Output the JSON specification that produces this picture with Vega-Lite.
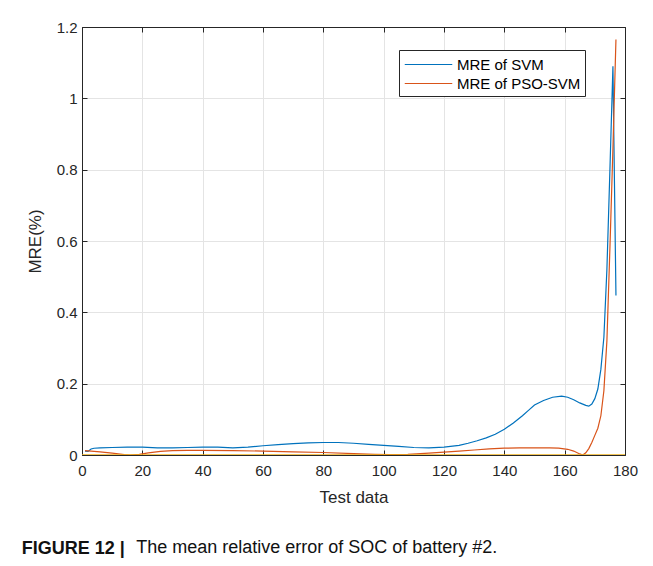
{
  "$schema": "https://vega.github.io/schema/vega-lite/v6.json",
  "background": "white",
  "padding": {"left": 21, "top": 19, "right": 20, "bottom": 10},
  "config": {
    "font": "Liberation Sans",
    "view": {"stroke": "#262626", "strokeWidth": 1},
    "axis": {"labelFont": "Liberation Sans", "titleFont": "Liberation Sans", "labelColor": "#262626", "titleColor": "#262626", "domainColor": "#262626", "tickColor": "#262626", "titleFontWeight": "normal"}
  },
  "datasets": {
    "main": [
      {"series":"MRE of SVM","test":1,"mre":0.011},{"series":"MRE of SVM","test":2,"mre":0.010},{"series":"MRE of SVM","test":3,"mre":0.017},{"series":"MRE of SVM","test":4,"mre":0.019},{"series":"MRE of SVM","test":6,"mre":0.020},{"series":"MRE of SVM","test":10,"mre":0.021},{"series":"MRE of SVM","test":15,"mre":0.022},{"series":"MRE of SVM","test":20,"mre":0.022},{"series":"MRE of SVM","test":25,"mre":0.020},{"series":"MRE of SVM","test":30,"mre":0.020},{"series":"MRE of SVM","test":35,"mre":0.021},{"series":"MRE of SVM","test":40,"mre":0.022},{"series":"MRE of SVM","test":45,"mre":0.022},{"series":"MRE of SVM","test":50,"mre":0.020},{"series":"MRE of SVM","test":55,"mre":0.022},{"series":"MRE of SVM","test":60,"mre":0.026},{"series":"MRE of SVM","test":65,"mre":0.029},{"series":"MRE of SVM","test":70,"mre":0.032},{"series":"MRE of SVM","test":75,"mre":0.034},{"series":"MRE of SVM","test":80,"mre":0.035},{"series":"MRE of SVM","test":85,"mre":0.035},{"series":"MRE of SVM","test":90,"mre":0.033},{"series":"MRE of SVM","test":95,"mre":0.030},{"series":"MRE of SVM","test":100,"mre":0.027},{"series":"MRE of SVM","test":105,"mre":0.024},{"series":"MRE of SVM","test":110,"mre":0.021},{"series":"MRE of SVM","test":115,"mre":0.020},{"series":"MRE of SVM","test":120,"mre":0.022},{"series":"MRE of SVM","test":125,"mre":0.027},{"series":"MRE of SVM","test":128,"mre":0.033},{"series":"MRE of SVM","test":131,"mre":0.040},{"series":"MRE of SVM","test":134,"mre":0.048},{"series":"MRE of SVM","test":137,"mre":0.058},{"series":"MRE of SVM","test":140,"mre":0.072},{"series":"MRE of SVM","test":143,"mre":0.090},{"series":"MRE of SVM","test":146,"mre":0.110},{"series":"MRE of SVM","test":148,"mre":0.125},{"series":"MRE of SVM","test":150,"mre":0.140},{"series":"MRE of SVM","test":153,"mre":0.153},{"series":"MRE of SVM","test":156,"mre":0.162},{"series":"MRE of SVM","test":159,"mre":0.165},{"series":"MRE of SVM","test":161,"mre":0.162},{"series":"MRE of SVM","test":163,"mre":0.155},{"series":"MRE of SVM","test":165,"mre":0.146},{"series":"MRE of SVM","test":167,"mre":0.139},{"series":"MRE of SVM","test":168,"mre":0.137},{"series":"MRE of SVM","test":169,"mre":0.143},{"series":"MRE of SVM","test":170,"mre":0.158},{"series":"MRE of SVM","test":171,"mre":0.185},{"series":"MRE of SVM","test":172,"mre":0.24},{"series":"MRE of SVM","test":173,"mre":0.33},{"series":"MRE of SVM","test":174,"mre":0.52},{"series":"MRE of SVM","test":175,"mre":0.80},{"series":"MRE of SVM","test":176,"mre":1.09},{"series":"MRE of SVM","test":177,"mre":0.447},
      {"series":"MRE of PSO-SVM","test":1,"mre":0.012},{"series":"MRE of PSO-SVM","test":3,"mre":0.011},{"series":"MRE of PSO-SVM","test":6,"mre":0.009},{"series":"MRE of PSO-SVM","test":10,"mre":0.005},{"series":"MRE of PSO-SVM","test":14,"mre":0.001},{"series":"MRE of PSO-SVM","test":16,"mre":0.000},{"series":"MRE of PSO-SVM","test":19,"mre":0.002},{"series":"MRE of PSO-SVM","test":22,"mre":0.006},{"series":"MRE of PSO-SVM","test":26,"mre":0.010},{"series":"MRE of PSO-SVM","test":30,"mre":0.012},{"series":"MRE of PSO-SVM","test":35,"mre":0.013},{"series":"MRE of PSO-SVM","test":40,"mre":0.013},{"series":"MRE of PSO-SVM","test":50,"mre":0.012},{"series":"MRE of PSO-SVM","test":60,"mre":0.011},{"series":"MRE of PSO-SVM","test":70,"mre":0.009},{"series":"MRE of PSO-SVM","test":80,"mre":0.007},{"series":"MRE of PSO-SVM","test":90,"mre":0.004},{"series":"MRE of PSO-SVM","test":97,"mre":0.002},{"series":"MRE of PSO-SVM","test":102,"mre":0.001},{"series":"MRE of PSO-SVM","test":108,"mre":0.002},{"series":"MRE of PSO-SVM","test":115,"mre":0.005},{"series":"MRE of PSO-SVM","test":120,"mre":0.008},{"series":"MRE of PSO-SVM","test":125,"mre":0.011},{"series":"MRE of PSO-SVM","test":130,"mre":0.014},{"series":"MRE of PSO-SVM","test":135,"mre":0.017},{"series":"MRE of PSO-SVM","test":140,"mre":0.019},{"series":"MRE of PSO-SVM","test":145,"mre":0.020},{"series":"MRE of PSO-SVM","test":150,"mre":0.020},{"series":"MRE of PSO-SVM","test":155,"mre":0.020},{"series":"MRE of PSO-SVM","test":158,"mre":0.019},{"series":"MRE of PSO-SVM","test":161,"mre":0.016},{"series":"MRE of PSO-SVM","test":163,"mre":0.011},{"series":"MRE of PSO-SVM","test":165,"mre":0.003},{"series":"MRE of PSO-SVM","test":166,"mre":0.000},{"series":"MRE of PSO-SVM","test":167,"mre":0.006},{"series":"MRE of PSO-SVM","test":168,"mre":0.018},{"series":"MRE of PSO-SVM","test":169,"mre":0.035},{"series":"MRE of PSO-SVM","test":170,"mre":0.055},{"series":"MRE of PSO-SVM","test":171,"mre":0.075},{"series":"MRE of PSO-SVM","test":172,"mre":0.11},{"series":"MRE of PSO-SVM","test":173,"mre":0.18},{"series":"MRE of PSO-SVM","test":174,"mre":0.32},{"series":"MRE of PSO-SVM","test":175,"mre":0.58},{"series":"MRE of PSO-SVM","test":176,"mre":0.86},{"series":"MRE of PSO-SVM","test":177,"mre":1.165}
    ],
    "zero": [
      {"test":0,"mre":0},{"test":180,"mre":0}
    ]
  },
  "title": {"text": "FIGURE 12 |", "orient": "bottom", "anchor": "start", "fontSize": 18, "fontWeight": "bold", "color": "#111111", "dy": -22, "dx": -4},
  "vconcat": [
    {
      "width": 543,
      "height": 428,
      "title": {"text": "The mean relative error of SOC of battery #2.", "orient": "bottom", "anchor": "start", "fontSize": 18, "fontWeight": "normal", "color": "#111111", "dx": 110, "offset": 34},
      "resolve": {"axis": {"x": "independent", "y": "independent"}},
      "layer": [
        {
          "data": {"name": "main"},
          "mark": {"type": "line", "strokeWidth": 1.2, "clip": true},
          "encoding": {
            "x": {"field": "test", "type": "quantitative", "scale": {"domain": [0, 180], "nice": false},
                  "axis": {"orient": "bottom", "values": [0,20,40,60,80,100,120,140,160,180], "title": "Test data", "titleFontSize": 17, "labelFontSize": 15, "tickSize": -5, "labelPadding": 13, "titlePadding": 11, "grid": true, "gridColor": "#e4e4e4", "labelFlush": false}},
            "y": {"field": "mre", "type": "quantitative", "scale": {"domain": [0, 1.2], "nice": false},
                  "axis": {"orient": "left", "values": [0,0.2,0.4,0.6,0.8,1,1.2], "format": "~g", "title": "MRE(%)", "titleFontSize": 17, "labelFontSize": 15, "tickSize": -5, "labelPadding": 10, "titlePadding": 12, "grid": true, "gridColor": "#e4e4e4", "labelFlush": false}},
            "color": {"field": "series", "type": "nominal",
                      "scale": {"domain": ["MRE of SVM", "MRE of PSO-SVM"], "range": ["#0072BD", "#D95319"]},
                      "legend": {"title": null, "orient": "none", "legendX": 317, "legendY": 23, "symbolType": "M-2.5,0H2.5", "symbolSize": 361, "symbolOffset": 15, "symbolStrokeWidth": 1.2, "labelFontSize": 15, "labelFont": "Liberation Sans", "labelColor": "#000000", "strokeColor": "#262626", "fillColor": "#ffffff", "padding": 4, "rowPadding": 0, "labelOffset": 18, "labelLimit": 300}}
          }
        },
        {
          "data": {"name": "zero"},
          "mark": {"type": "line", "strokeWidth": 1.5, "color": "#EDB120", "clip": true},
          "encoding": {
            "x": {"field": "test", "type": "quantitative", "scale": {"domain": [0, 180], "nice": false},
                  "axis": {"orient": "top", "values": [0,20,40,60,80,100,120,140,160,180], "labels": false, "title": null, "tickSize": -5, "grid": false}},
            "y": {"field": "mre", "type": "quantitative", "scale": {"domain": [0, 1.2], "nice": false},
                  "axis": {"orient": "right", "values": [0,0.2,0.4,0.6,0.8,1,1.2], "labels": false, "title": null, "tickSize": -5, "grid": false}}
          }
        }
      ]
    }
  ]
}
